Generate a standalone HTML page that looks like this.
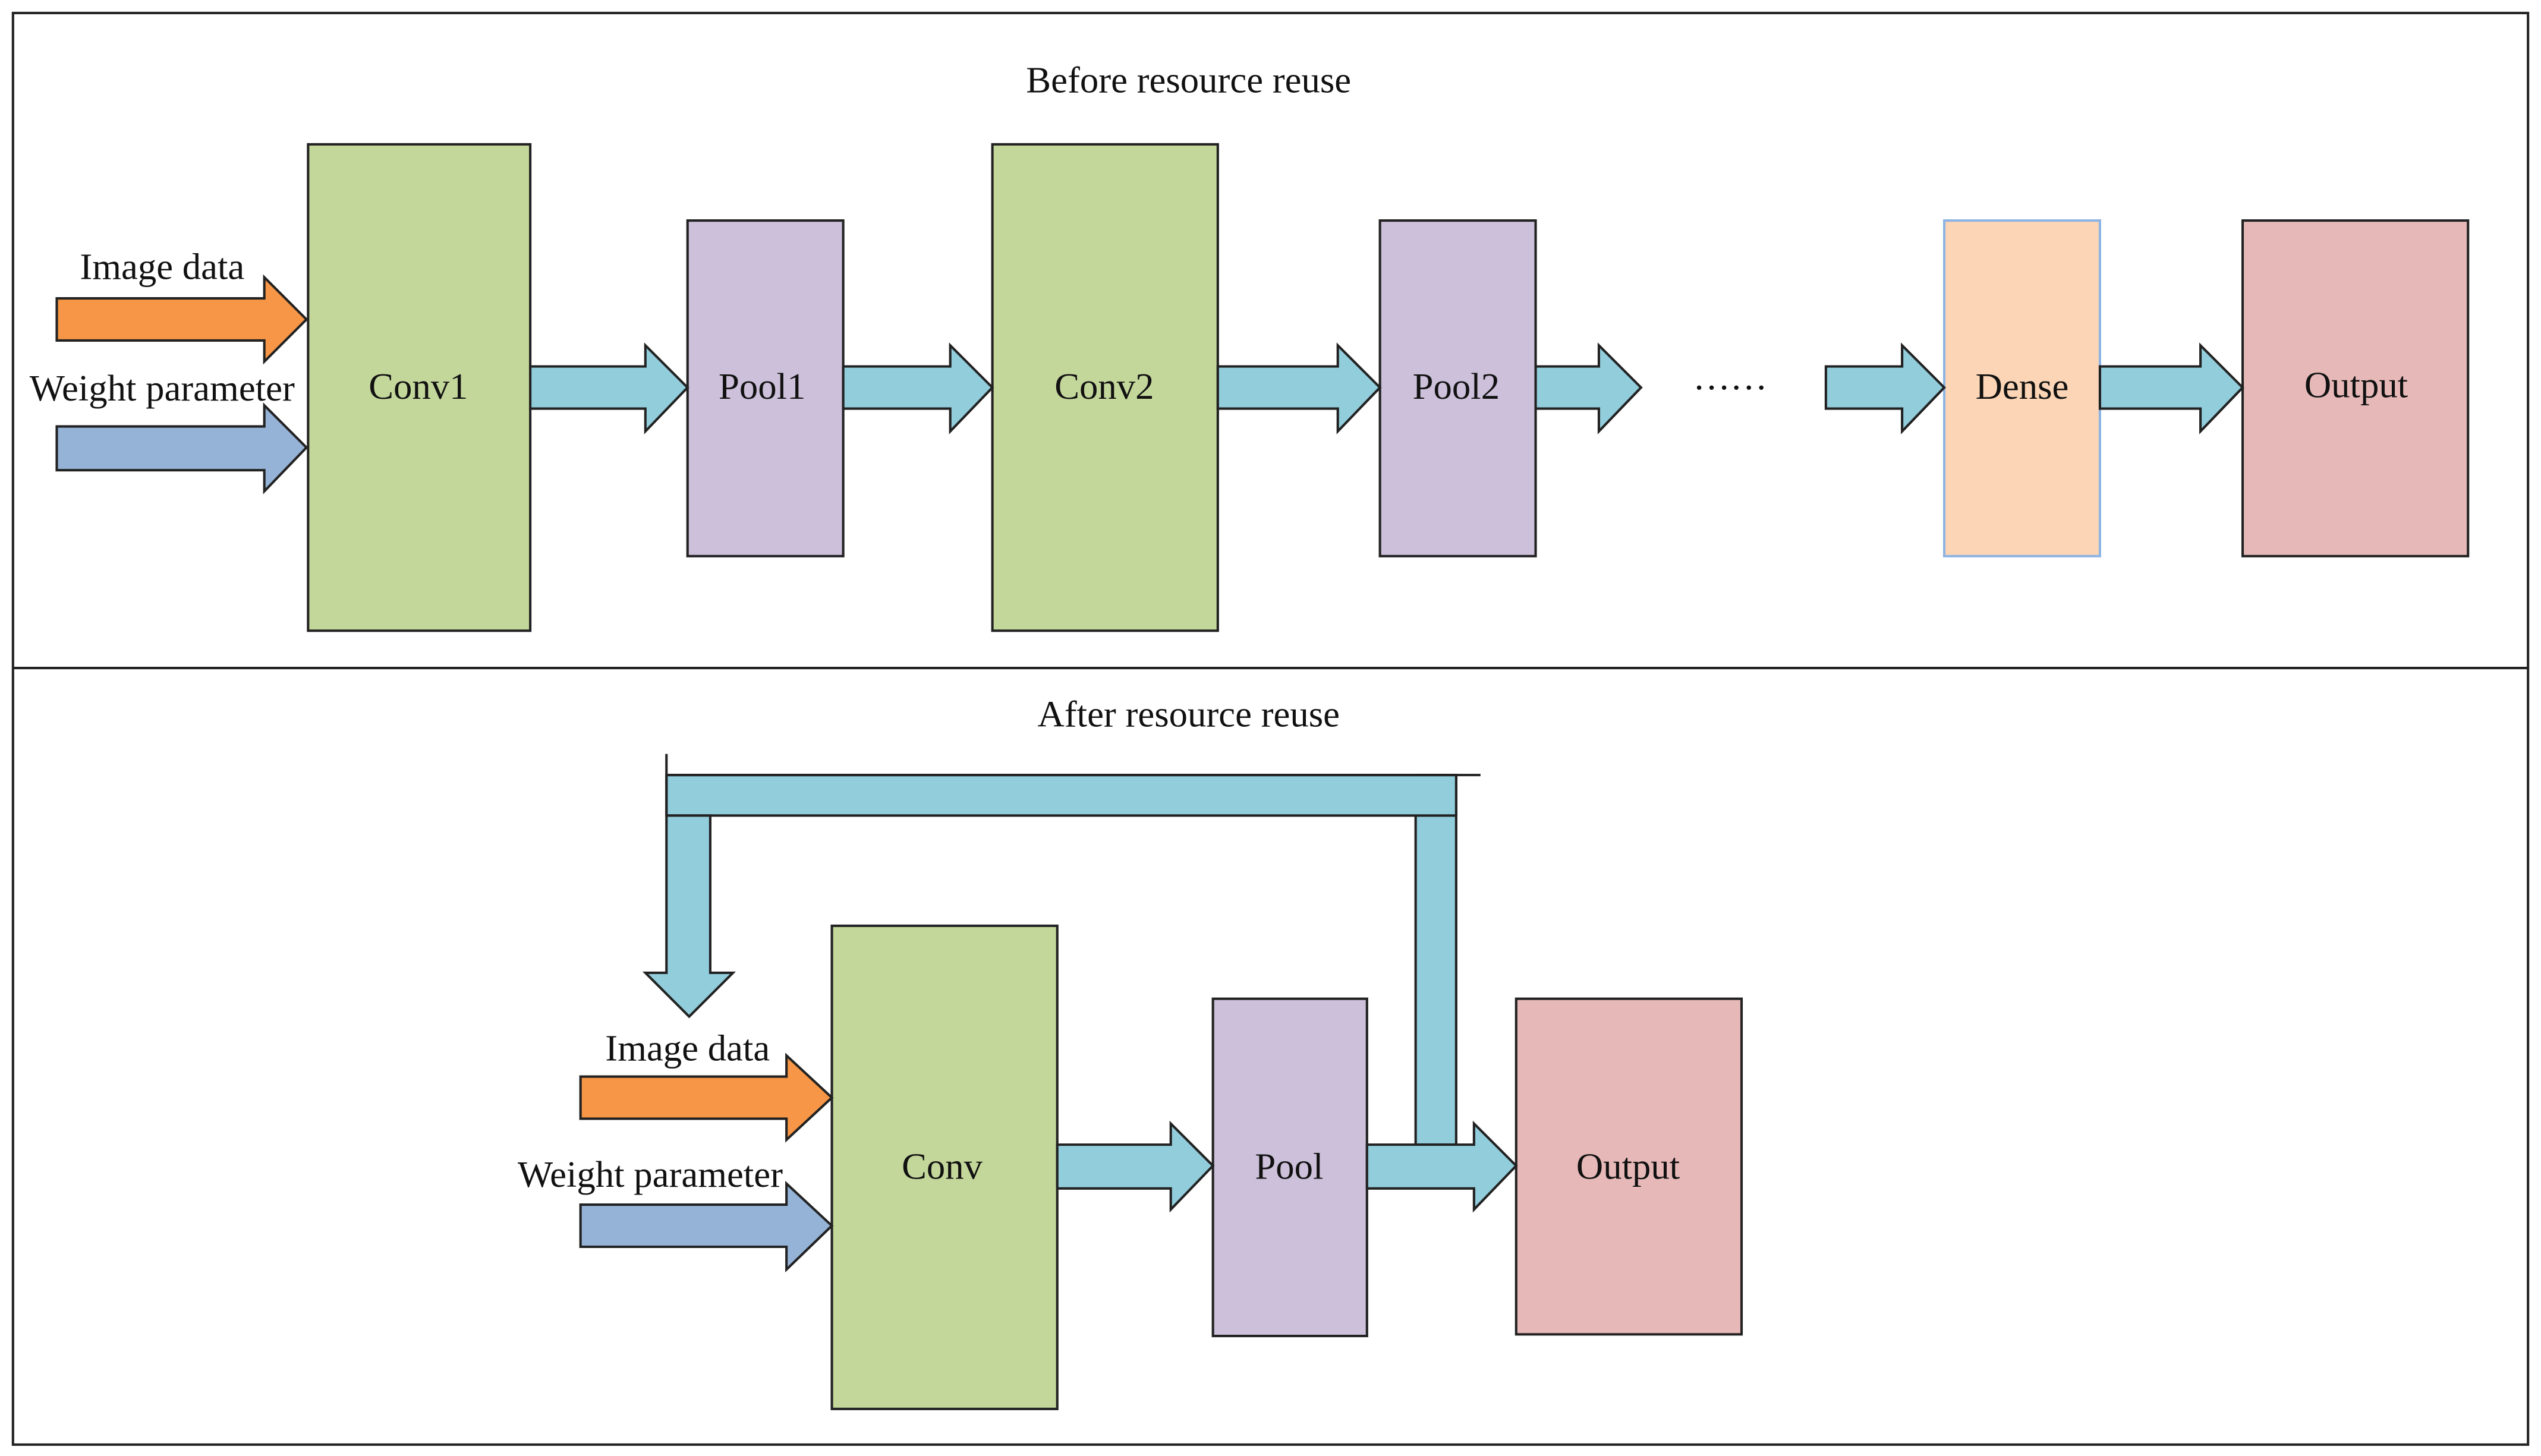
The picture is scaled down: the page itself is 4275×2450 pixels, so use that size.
<!DOCTYPE html>
<html><head><meta charset="utf-8"><style>
html,body{margin:0;padding:0;background:#fff;}
svg{display:block;}
text{font-family:"Liberation Serif",serif;font-size:23px;fill:#111;text-anchor:middle;}
</style></head><body>
<svg width="4275" height="2450" viewBox="0 0 1567 898" xmlns="http://www.w3.org/2000/svg">
<rect x="0" y="0" width="1567" height="898" fill="#fff"/>
<rect x="8" y="8" width="1551" height="883" fill="none" stroke="#222" stroke-width="1.5"/>
<line x1="8" y1="412" x2="1559" y2="412" stroke="#222" stroke-width="1.5"/>
<text x="733" y="57">Before resource reuse</text>
<text x="733" y="448">After resource reuse</text>

<g stroke="#222" stroke-width="1.5">
<rect x="190" y="89" width="137" height="300" fill="#c4d79b"/>
<rect x="424" y="136" width="96" height="207" fill="#ccc0da"/>
<rect x="612" y="89" width="139" height="300" fill="#c4d79b"/>
<rect x="851" y="136" width="96" height="207" fill="#ccc0da"/>
<rect x="1199" y="136" width="96" height="207" fill="#fbd5b5" stroke="#8eb4e3"/>
<rect x="1383" y="136" width="139" height="207" fill="#e6b9b8"/>
<rect x="513" y="571" width="139" height="298" fill="#c4d79b"/>
<rect x="748" y="616" width="95" height="208" fill="#ccc0da"/>
<rect x="935" y="616" width="139" height="207" fill="#e6b9b8"/>
</g>

<g stroke="#222" stroke-width="1.5" stroke-linejoin="miter">
<polygon points="35,184 163,184 163,171 189,197 163,223 163,210 35,210" fill="#f79646"/>
<polygon points="35,263 163,263 163,250 189,276 163,303 163,290 35,290" fill="#95b3d7"/>
<polygon points="327,226 398,226 398,213 424,239 398,266 398,252 327,252" fill="#92cddc"/>
<polygon points="520,226 586,226 586,213 612,239 586,266 586,252 520,252" fill="#92cddc"/>
<polygon points="751,226 825,226 825,213 851,239 825,266 825,252 751,252" fill="#92cddc"/>
<polygon points="947,226 986,226 986,213 1012,239 986,266 986,252 947,252" fill="#92cddc"/>
<polygon points="1126,226 1173,226 1173,213 1199,239 1173,266 1173,252 1126,252" fill="#92cddc"/>
<polygon points="1295,226 1357,226 1357,213 1383,239 1357,266 1357,252 1295,252" fill="#92cddc"/>
<polygon points="358,664 485,664 485,651 513,677 485,703 485,690 358,690" fill="#f79646"/>
<polygon points="358,743 485,743 485,730 513,756 485,783 485,769 358,769" fill="#95b3d7"/>
<polygon points="652,706 722,706 722,693 748,719 722,746 722,733 652,733" fill="#92cddc"/>
<rect x="873" y="478" width="25" height="228" fill="#92cddc"/>
<polygon points="843,706 909,706 909,693 935,719 909,746 909,733 843,733" fill="#92cddc"/>
<rect x="411" y="478" width="487" height="25" fill="#92cddc"/>
<polygon points="411,503 438,503 438,600 452,600 425,627 398,600 411,600" fill="#92cddc"/>
<line x1="411" y1="478" x2="913" y2="478"/>
<line x1="411" y1="465" x2="411" y2="503"/>
</g>

<text x="100" y="172">Image data</text>
<text x="100" y="247">Weight parameter</text>
<text x="258" y="246">Conv1</text>
<text x="470" y="246">Pool1</text>
<text x="681" y="246">Conv2</text>
<text x="898" y="246">Pool2</text>
<text x="1067" y="240">……</text>
<text x="1247" y="246">Dense</text>
<text x="1453" y="245">Output</text>
<text x="424" y="654">Image data</text>
<text x="401" y="732">Weight parameter</text>
<text x="581" y="727">Conv</text>
<text x="795" y="727">Pool</text>
<text x="1004" y="727">Output</text>
</svg>
</body></html>
